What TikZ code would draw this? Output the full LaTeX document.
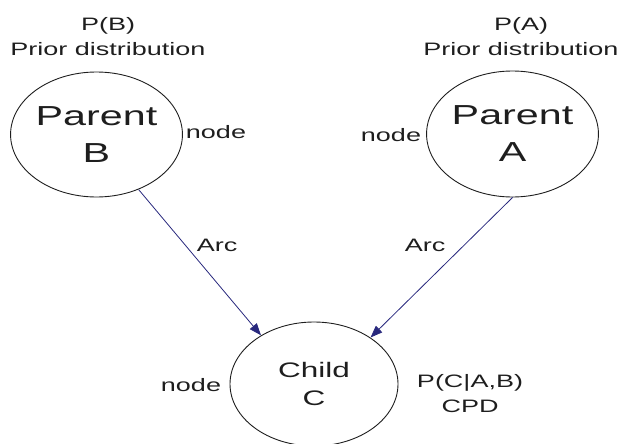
\documentclass[tikz,border=0pt]{standalone}
\usepackage{fontspec}
\setmainfont{Liberation Sans}
\usetikzlibrary{shapes.geometric,arrows.meta}
\definecolor{arrowc}{RGB}{40,40,125}
\definecolor{ink}{RGB}{30,30,30}
\begin{document}
\begin{tikzpicture}[x=0.666667pt,y=-1pt,xscale=1.5,transform shape,
  bubble/.style={ellipse,draw=ink,line width=0.9pt,inner sep=0pt,align=center,text=ink},
  bigtext/.style={font=\fontsize{27.5}{37}\selectfont},
  lbl/.style={text=ink,font=\fontsize{18}{25}\selectfont,align=center,inner sep=0pt},
  arcline/.style={draw=arrowc,line width=0.8pt,-{Triangle[length=12pt,width=9pt]}}]
\useasboundingbox (0,0) rectangle (621,444);
% ellipses
\node[bubble,bigtext,minimum width=111pt,minimum height=125pt] (B) at (96.5,134.5) {Parent\\B};
\node[bubble,bigtext,minimum width=112.5pt,minimum height=126pt] (A) at (512.5,134) {Parent\\A};
\node[bubble,minimum width=112pt,minimum height=124pt,font=\fontsize{21}{28}\selectfont] (C) at (314,384) {Child\\C};
% labels
\node[lbl] (pb) at (108,37) {P(B)\\Prior distribution};
\node[lbl] (pa) at (521,37) {P(A)\\Prior distribution};
\node[lbl] (nb) at (216,132) {node};
\node[lbl] (na) at (391,135) {node};
\node[lbl] (nc) at (191,385) {node};
\node[lbl] (cpd) at (470,394) {P(C|A,B)\\CPD};
\node[lbl] (arcb) at (217,245) {Arc};
\node[lbl] (arca) at (425,245) {Arc};
% arcs
\draw[arcline] (B.-63.5) -- (C.126);
\draw[arcline] (A.south) -- (C.51);
\end{tikzpicture}
\end{document}
